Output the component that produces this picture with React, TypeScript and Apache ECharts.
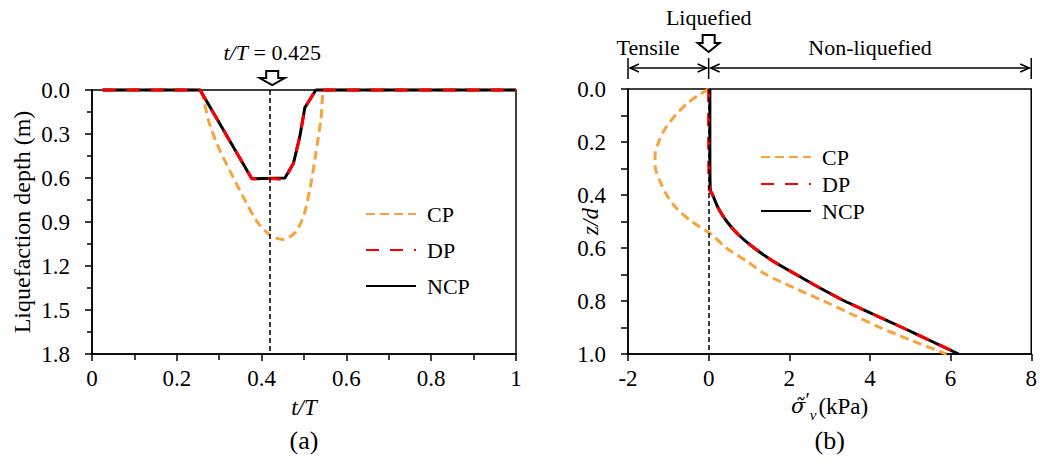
import React, { useEffect, useRef } from "react";
import * as echarts from "echarts";

const FONT = "'Liberation Serif', 'Times New Roman', serif";
const SIGMA_FONT = "'DejaVu Serif', serif";
const ORANGE = "#F8A23B";
const RED = "#FF0000";
const BLACK = "#000000";

// (a) liquefaction depth against normalised time
const tMarked = 0.425;
const tCP = [0.025, 0.25, 0.26, 0.275, 0.295, 0.325, 0.355, 0.39, 0.42, 0.45, 0.48, 0.5, 0.515, 0.528, 0.54, 0.55, 0.6, 1.0];
const depthCP = [0, 0, 0.03, 0.21, 0.37, 0.55, 0.72, 0.9, 0.99, 1.02, 0.97, 0.85, 0.66, 0.43, 0.2, 0, 0, 0];
const tNCP = [0.025, 0.255, 0.377, 0.455, 0.475, 0.49, 0.502, 0.528, 1.0];
const depthNCP = [0, 0, 0.605, 0.6, 0.5, 0.32, 0.12, 0, 0];
const tDP = [0.025, 0.255, 0.377, 0.43, 0.455, 0.475, 0.49, 0.502, 0.528, 1.0];
const depthDP = [0, 0, 0.605, 0.605, 0.61, 0.5, 0.32, 0.12, 0, 0];

// (b) effective vertical stress profile against normalised depth
const zCP = [0, 0.02, 0.05, 0.1, 0.15, 0.2, 0.25, 0.3, 0.35, 0.4, 0.45, 0.5, 0.55, 0.6, 0.65, 0.7, 0.75, 0.8, 0.85, 0.9, 0.95, 1.0];
const sigmaCP = [0, -0.22, -0.5, -0.83, -1.08, -1.24, -1.33, -1.32, -1.2, -1.04, -0.8, -0.42, 0.08, 0.44, 0.95, 1.42, 2.12, 2.85, 3.55, 4.25, 5.05, 5.9];
const zNCP = [0, 0.2, 0.38, 0.4, 0.45, 0.5, 0.55, 0.6, 0.65, 0.7, 0.75, 0.8, 0.85, 0.9, 0.95, 1.0];
const sigmaNCP = [0.03, 0.03, 0.04, 0.1, 0.24, 0.45, 0.74, 1.13, 1.6, 2.17, 2.75, 3.37, 4.08, 4.8, 5.5, 6.2];
const sigmaDP = [0.0, 0.0, 0.02, 0.1, 0.24, 0.45, 0.74, 1.13, 1.6, 2.17, 2.75, 3.37, 4.08, 4.8, 5.5, 6.22];

const seriesNames = ["CP", "DP", "NCP"];

const axisBase = {
  type: "value" as const,
  axisLine: { show: true, onZero: false, lineStyle: { color: BLACK, width: 1.5 } },
  axisTick: { show: true, length: 7, lineStyle: { color: BLACK, width: 1.5 } },
  splitLine: { show: false },
  minorSplitLine: { show: false },
  axisLabel: { fontFamily: FONT, fontSize: 23, color: BLACK },
  nameLocation: "middle" as const,
  nameMoveOverlap: false,
  nameTextStyle: { fontFamily: FONT, fontSize: 24, color: BLACK },
};

const pairs = (xs: number[], ys: number[]) => xs.map((x, i) => [x, ys[i]]);

function lineSeries(name: string, gi: number, data: number[][], extra: any = {}) {
  const style: Record<string, any> = {
    CP: { color: ORANGE, width: 3, type: [9, 5] },
    DP: { color: RED, width: 3, type: [13, 11] },
    NCP: { color: BLACK, width: 3, type: "solid" },
  };
  const zMap: Record<string, number> = { CP: 2, NCP: 3, DP: 4 };
  return {
    name,
    type: "line",
    xAxisIndex: gi,
    yAxisIndex: gi,
    data,
    symbol: "none",
    showSymbol: false,
    clip: false,
    lineStyle: style[name],
    itemStyle: { color: style[name].color },
    z: zMap[name],
    ...extra,
  };
}

const dashedMark = (x: number) => ({
  silent: true,
  symbol: ["none", "none"],
  label: { show: false },
  lineStyle: { color: BLACK, width: 1.5, type: [5, 3] },
  data: [{ xAxis: x }],
});

function hollowArrow(cx: number, tipY: number, h: number, stemH: number, stemHalf: number, headHalf: number) {
  const top = tipY - h;
  const neck = top + stemH;
  return {
    type: "polygon",
    shape: {
      points: [
        [cx - stemHalf, top],
        [cx + stemHalf, top],
        [cx + stemHalf, neck],
        [cx + headHalf, neck],
        [cx, tipY],
        [cx - headHalf, neck],
        [cx - stemHalf, neck],
      ],
    },
    style: { fill: "#fff", stroke: BLACK, lineWidth: 2 },
  };
}

function doubleArrow(x1: number, x2: number, y: number) {
  const s = { stroke: BLACK, lineWidth: 1.5, fill: "none" };
  return [
    { type: "line", shape: { x1, y1: y, x2, y2: y }, style: s },
    { type: "polyline", shape: { points: [[x1 + 9, y - 4], [x1, y], [x1 + 9, y + 4]] }, style: s },
    { type: "polyline", shape: { points: [[x2 - 9, y - 4], [x2, y], [x2 - 9, y + 4]] }, style: s },
  ];
}

const txt = (text: string, x: number, y: number, extra: any = {}) => ({
  type: "text",
  x,
  y,
  style: {
    text,
    fontFamily: FONT,
    fontSize: 22,
    fill: BLACK,
    align: "center",
    verticalAlign: "middle",
    ...extra,
  },
});

const legendBase = {
  orient: "vertical",
  padding: 0,
  itemWidth: 50,
  itemHeight: 14,
  data: seriesNames,
  selectedMode: false,
  itemStyle: { opacity: 0 },
  textStyle: { fontFamily: FONT, fontSize: 22, color: BLACK, lineHeight: 22, padding: [0, 0, 0, 6] },
};

export default function App() {
  const ref = useRef<HTMLDivElement>(null);

  useEffect(() => {
    if (!ref.current) return;
    const chart = echarts.init(ref.current, null, { renderer: "svg" });

    const option: any = {
      animation: false,
      backgroundColor: "#fff",
      grid: [
        { left: 92, top: 90, width: 424, height: 264, show: true, borderColor: BLACK, borderWidth: 1.5 },
        { left: 628, top: 89, width: 406, height: 265, show: true, borderColor: BLACK, borderWidth: 1.5 },
      ],
      xAxis: [
        {
          ...axisBase,
          gridIndex: 0,
          min: 0,
          max: 1,
          interval: 0.2,
          minorTick: { show: true, splitNumber: 2, length: 6, lineStyle: { color: BLACK, width: 1.5 } },
          axisLabel: { ...axisBase.axisLabel, margin: 13 },
          name: "t/T",
          nameGap: 42,
          nameTextStyle: { ...axisBase.nameTextStyle, fontSize: 23, fontStyle: "italic" },
        },
        {
          ...axisBase,
          gridIndex: 1,
          min: -2,
          max: 8,
          interval: 2,
          axisLabel: { ...axisBase.axisLabel, margin: 13 },
        },
      ],
      yAxis: [
        {
          ...axisBase,
          gridIndex: 0,
          inverse: true,
          min: 0,
          max: 1.8,
          interval: 0.3,
          minorTick: { show: true, splitNumber: 2, length: 5, lineStyle: { color: BLACK, width: 1.5 } },
          axisLabel: { ...axisBase.axisLabel, margin: 22, formatter: (v: number) => v.toFixed(1) },
          name: "Liquefaction depth (m)",
          nameGap: 58,
        },
        {
          ...axisBase,
          gridIndex: 1,
          inverse: true,
          min: 0,
          max: 1,
          interval: 0.2,
          minorTick: { show: true, splitNumber: 2, length: 7, lineStyle: { color: BLACK, width: 1.5 } },
          axisLabel: { ...axisBase.axisLabel, margin: 22, formatter: (v: number) => v.toFixed(1) },
          name: "z/d",
          nameGap: 26,
          nameTextStyle: { ...axisBase.nameTextStyle, fontSize: 23, fontStyle: "italic" },
        },
      ],
      legend: [
        { ...legendBase, left: 365, top: 203, itemGap: 14 },
        { ...legendBase, left: 760, top: 146, itemGap: 5 },
      ],
      series: [
        lineSeries("CP", 0, pairs(tCP, depthCP), { smooth: 0.25, markLine: dashedMark(tMarked) }),
        lineSeries("NCP", 0, pairs(tNCP, depthNCP)),
        lineSeries("DP", 0, pairs(tDP, depthDP)),
        lineSeries("CP", 1, pairs(sigmaCP, zCP), { smooth: 0.3, markLine: dashedMark(0) }),
        lineSeries("NCP", 1, pairs(sigmaNCP, zNCP), { smooth: 0.2 }),
        lineSeries("DP", 1, pairs(sigmaDP, zNCP), { smooth: 0.2 }),
      ],
    };

    chart.setOption(option);

    // annotations placed from the axes' own scales
    const p0 = (x: number, y: number) => chart.convertToPixel({ gridIndex: 0 } as any, [x, y]) as number[];
    const p1 = (x: number, y: number) => chart.convertToPixel({ gridIndex: 1 } as any, [x, y]) as number[];
    const [mx, top0] = p0(tMarked, 0);
    const [, bot0] = p0(0, 1.8);
    const [ax0] = p0(0, 0);
    const [ax1] = p0(1, 0);
    const [bx0, top1] = p1(-2, 0);
    const [bz] = p1(0, 0);
    const [bx8] = p1(8, 0);
    const [, bot1] = p1(0, 1);
    const [tensX] = p1(-1.5, 0);
    const [nonX] = p1(4, 0);

    const barY1 = top1 - 31;
    const barY2 = top1 - 10;
    const arrowY = top1 - 21;
    const barStyle = { stroke: BLACK, lineWidth: 1.5 };
    const cx = (bx0 + bx8) / 2;

    // x-axis title of (b): sigma-tilde with prime and subscript v, then the unit
    const sigmaName = txt("{s|σ̃}{p|′}{v|v}{n|(kPa)}", cx, bot1 + 52, {
      rich: {
        s: { fontFamily: SIGMA_FONT, fontSize: 21, fontStyle: "italic", lineHeight: 32, verticalAlign: "middle", fill: BLACK },
        p: { fontFamily: FONT, fontSize: 20, lineHeight: 32, verticalAlign: "top", fill: BLACK },
        v: { fontFamily: FONT, fontSize: 15, fontStyle: "italic", lineHeight: 32, verticalAlign: "bottom", padding: [0, 2, 0, 0], fill: BLACK },
        n: { fontFamily: FONT, fontSize: 23, lineHeight: 32, verticalAlign: "middle", fill: BLACK },
      },
    });

    const graphic: any[] = [
      txt("{i|t/T} = 0.425", mx, top0 - 38, {
        rich: { i: { fontFamily: FONT, fontSize: 22, fontStyle: "italic", fill: BLACK } },
      }),
      hollowArrow(mx, top0 - 5, 14, 7, 6, 12.5),
      txt("(a)", (ax0 + ax1) / 2, bot0 + 86, { fontSize: 26 }),
      txt("Liquefied", bz, top1 - 72),
      hollowArrow(bz, top1 - 37, 17, 8, 6, 11),
      txt("Tensile", tensX, top1 - 42),
      txt("Non-liquefied", nonX, top1 - 42),
      { type: "line", shape: { x1: bx0, y1: barY1, x2: bx0, y2: barY2 }, style: barStyle },
      { type: "line", shape: { x1: bz, y1: barY1, x2: bz, y2: barY2 }, style: barStyle },
      { type: "line", shape: { x1: bx8, y1: barY1, x2: bx8, y2: barY2 }, style: barStyle },
      ...doubleArrow(bx0 + 2, bz - 2, arrowY),
      ...doubleArrow(bz + 2, bx8 - 2, arrowY),
      sigmaName,
      txt("(b)", cx, bot1 + 86, { fontSize: 26 }),
    ];

    chart.setOption({ graphic });

    return () => chart.dispose();
  }, []);

  return (
    <div
      ref={ref}
      style={{ position: "fixed", left: 0, top: 0, width: 1040, height: 466, background: "#fff" }}
    />
  );
}
